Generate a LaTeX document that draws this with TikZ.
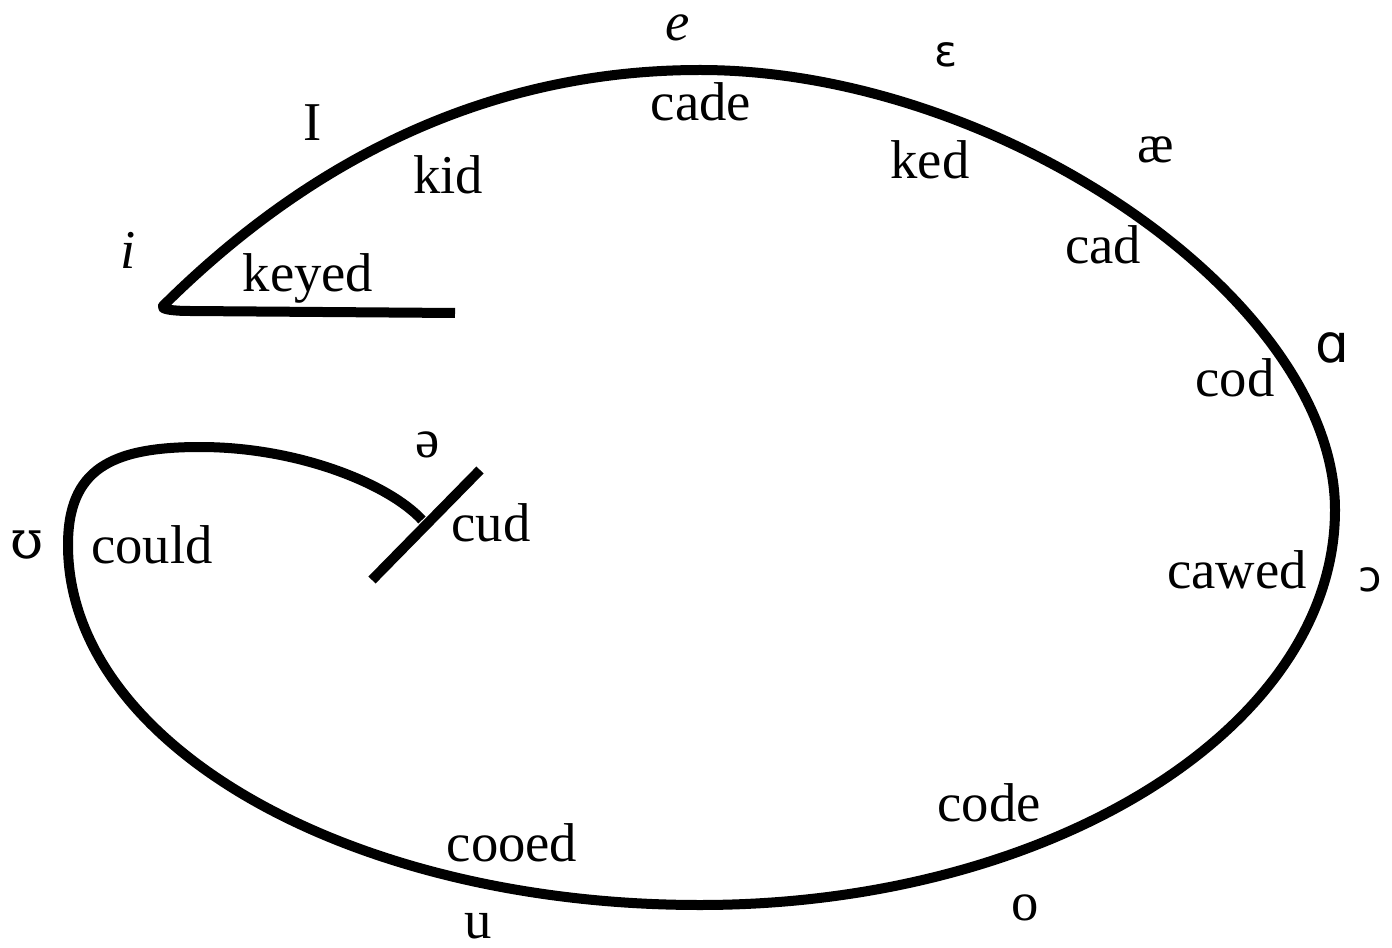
\documentclass[tikz,border=0pt]{standalone}
\usepackage{fontspec}
\setmainfont{Liberation Serif}
\newfontfamily\ipasans{DejaVu Sans}
\newfontfamily\ipaserif{DejaVu Serif}
\usepackage{tikz}

\tikzset{
  word/.style={inner sep=0.75pt, font=\fontsize{41}{45}\selectfont},
  vowel/.style={inner sep=0.75pt, font=\fontsize{41}{45}\selectfont},
  svowel/.style={inner sep=0.75pt, font=\fontsize{32}{36}\selectfont\ipasans},
}

\begin{document}
\begin{tikzpicture}[x=0.75pt,y=0.75pt,yscale=-1,xscale=1]
\path[use as bounding box] (0,0) rectangle (1392,948);

%Curve: spiral
\draw [line width=7.5pt, line join=round]  (455,313) -- (190,311) .. controls (172,311) and (160,309) .. (163,306)
  .. controls (320,150) and (500,70) .. (700,70)
  .. controls (1000,70) and (1335,300) .. (1335,510)
  .. controls (1335,728) and (1050,905) .. (700,905)
  .. controls (350,905) and (68,745) .. (68,545)
  .. controls (68,470) and (110,447) .. (200,447)
  .. controls (300,447) and (390,485) .. (422,520) ;
%Straight Lines: cross bar
\draw [line width=7.5pt]  (372,580) -- (480,470) ;

% Text Node
\node [word] (cade) at (701,102) {cade};
\node [word] (kid) at (448,175) {kid};
\node [word] (keyed) at (308,278) {keyed};
\node [word] (ked) at (930,160) {ked};
\node [word] (cad) at (1103,245) {cad};
\node [word] (cod) at (1235,378) {cod};
\node [word] (cawed) at (1237,570) {cawed};
\node [word] (code) at (989,803) {code};
\node [word] (cooed) at (512,843) {cooed};
\node [word] (could) at (152,545) {could};
\node [word] (cud) at (491,523) {cud};

% Text Node
\node [vowel] (e) at (678,28) {\itshape e};
\node [vowel] (i) at (128,250) {\itshape i};
\node [vowel] (I) at (313,123) {I};
\node [vowel] (ae) at (1156,150) {æ};
\node [vowel] (o) at (1025,908) {o};
\node [vowel] (u) at (478,926) {u};
\node [vowel, font=\fontsize{40}{44}\selectfont\ipaserif] (upsilon) at (27,545) {ʊ};
\node [vowel] (schwa) at (428,445) {ə};
\node [svowel] (epsilon) at (946,55) {ɛ};
\node [svowel, font=\fontsize{40}{44}\selectfont\ipasans] (alpha) at (1332,348) {ɑ};
\node [svowel] (openo) at (1370,580) {ɔ};

\end{tikzpicture}
\end{document}
